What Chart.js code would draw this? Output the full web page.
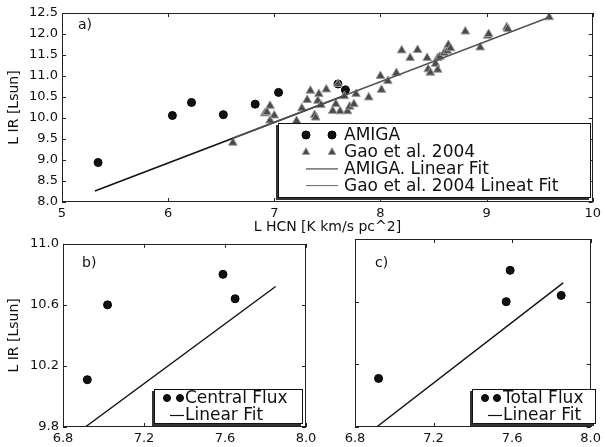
<!DOCTYPE html>
<html><head><meta charset="utf-8">
<style>
html,body{margin:0;padding:0;background:#fff}
body{width:605px;height:447px;position:relative;overflow:hidden}
canvas{position:absolute}
</style>
<script src="https://cdn.jsdelivr.net/npm/chart.js@4"></script>
</head><body>
<canvas id="c1" width="605" height="236" style="left:0px;top:0px"></canvas>
<canvas id="c2" width="330" height="215" style="left:0px;top:232px"></canvas>
<canvas id="c3" width="275" height="215" style="left:330px;top:232px"></canvas>
<script>
// ---------- data ----------
const AMIGA_X = [5.34, 6.04, 6.22, 6.52, 6.82, 7.04, 7.60, 7.67];
const AMIGA_Y = [8.94, 10.06, 10.37, 10.08, 10.33, 10.61, 10.81, 10.67];
const GAO_X = [6.61, 6.91, 6.96, 6.93, 6.96, 7.00, 7.21, 7.26, 7.31, 7.34, 7.38, 7.39, 7.42, 7.41, 7.44, 7.49, 7.55, 7.58, 7.62, 7.69, 7.71, 7.75, 7.77, 7.60, 7.66, 7.89, 8.00, 8.01, 8.07, 8.15, 8.20, 8.28, 8.35, 8.44, 8.45, 8.47, 8.52, 8.54, 8.54, 8.56, 8.60, 8.63, 8.64, 8.66, 8.80, 8.94, 9.01, 9.02, 9.19, 9.20, 9.59];
const GAO_Y = [9.41, 10.11, 10.29, 10.14, 9.94, 10.06, 9.93, 10.23, 10.43, 10.65, 10.07, 10.01, 10.57, 10.41, 10.31, 10.68, 10.17, 10.33, 10.16, 10.16, 10.27, 10.33, 10.57, 10.81, 10.52, 10.49, 11.00, 10.67, 10.88, 11.07, 11.61, 11.43, 11.62, 11.43, 11.16, 11.08, 11.29, 11.43, 11.15, 11.46, 11.55, 11.60, 11.74, 11.66, 12.06, 11.68, 11.96, 12.00, 12.16, 12.12, 12.40];
const AMIGA_FIT_X = [5.31, 7.67];
const AMIGA_FIT_Y = [8.26, 10.54];
const GAO_FIT_X = [6.60, 9.59];
const GAO_FIT_Y = [9.51, 12.40];

const CENTRAL_X = [6.92, 7.02, 7.59, 7.65];
const CENTRAL_Y = [10.11, 10.60, 10.80, 10.64];
const CENTRAL_FIT_X = [6.91, 7.85];
const CENTRAL_FIT_Y = [9.80, 10.72];

const TOTAL_X = [6.92, 7.57, 7.59, 7.85];
const TOTAL_Y = [10.11, 10.60, 10.80, 10.64];
const TOTAL_FIT_X = [6.91, 7.86];
const TOTAL_FIT_Y = [9.80, 10.72];

const TOP_X_TICKS = [5, 6, 7, 8, 9, 10];
const TOP_Y_TICKS = [8.0, 8.5, 9.0, 9.5, 10.0, 10.5, 11.0, 11.5, 12.0, 12.5];
const BOT_X_TICKS = [6.8, 7.2, 7.6, 8.0];
const BOT_Y_TICKS = [9.8, 10.2, 10.6, 11.0];

const X_TITLE = 'L HCN [K km/s pc^2]';
const Y_TITLE = 'L IR [Lsun]';

// ---------- helpers ----------
const pts = (xs, ys) => xs.map((x, i) => ({x, y: ys[i]}));
const FONT = '"DejaVu Sans", sans-serif';
Chart.defaults.font.family = FONT;
Chart.defaults.font.size = 13;
Chart.defaults.color = '#111';

const decor = {
  id: 'decor',
  afterDatasetsDraw(chart, args, o) {
    const ctx = chart.ctx, a = chart.chartArea;
    const xs = chart.scales.x, ys = chart.scales.y;
    ctx.save();
    ctx.strokeStyle = '#222'; ctx.lineWidth = 1;
    ctx.beginPath();
    xs.ticks.forEach(t => {
      const p = Math.round(xs.getPixelForValue(t.value)) + 0.5;
      ctx.moveTo(p, a.bottom); ctx.lineTo(p, a.bottom - 4);
      ctx.moveTo(p, a.top); ctx.lineTo(p, a.top + 4);
    });
    ys.ticks.forEach(t => {
      const p = Math.round(ys.getPixelForValue(t.value)) + 0.5;
      ctx.moveTo(a.left, p); ctx.lineTo(a.left + 4, p);
      ctx.moveTo(a.right, p); ctx.lineTo(a.right - 4, p);
    });
    ctx.stroke();
    ctx.strokeRect(Math.round(a.left) + 0.5, Math.round(a.top) + 0.5, Math.round(a.width) - 1, Math.round(a.height) - 1);
    ctx.fillStyle = '#111';
    ctx.font = '14px ' + FONT;
    ctx.textBaseline = 'middle';
    ctx.fillText(o.label, o.lx, o.ly);
    const L = o.legend;
    ctx.fillStyle = '#333';
    ctx.fillRect(L.x - L.sh, L.y + L.sh, L.w, L.h);
    ctx.fillStyle = '#fff';
    ctx.fillRect(L.x, L.y, L.w, L.h);
    ctx.strokeStyle = '#111';
    ctx.strokeRect(L.x + 0.5, L.y + 0.5, L.w - 1, L.h - 1);
    ctx.font = L.fs + 'px ' + FONT;
    L.items.forEach((it, i) => {
      const y = L.rowY + i * L.rowH;
      const ds = chart.data.datasets[it.ds];
      if (it.type === 'line') {
        ctx.strokeStyle = it.color; ctx.lineWidth = it.lw;
        ctx.beginPath(); ctx.moveTo(L.lx0, y + 0.5); ctx.lineTo(L.lx1, y + 0.5); ctx.stroke();
      } else {
        L.mx.forEach(mx => {
          ctx.fillStyle = ds.backgroundColor;
          ctx.strokeStyle = ds.borderColor;
          ctx.lineWidth = 1;
          ctx.beginPath();
          if (it.type === 'circle') {
            ctx.arc(mx, y, it.r, 0, Math.PI * 2);
          } else {
            const r = it.r;
            ctx.moveTo(mx, y - r); ctx.lineTo(mx + r * 0.95, y + r * 0.7); ctx.lineTo(mx - r * 0.95, y + r * 0.7); ctx.closePath();
          }
          ctx.fill(); ctx.stroke();
        });
      }
      ctx.fillStyle = '#111';
      ctx.textBaseline = 'middle';
      ctx.fillText(ds.label, L.tx, y + 1);
    });
    ctx.restore();
  }
};

function axis(ticksArr, min, max, fixed, size, opts) {
  return Object.assign({
    type: 'linear', min, max,
    grid: {display: false, drawTicks: false},
    border: {display: false},
    afterBuildTicks: s => { s.ticks = ticksArr.map(v => ({value: v})); },
    ticks: {callback: v => v.toFixed(fixed), padding: 4, font: {size: 13}, color: '#111'},
  }, opts, {afterFit: s => { if (s.isHorizontal()) s.height = size; else s.width = size; }});
}

function makeChart(id, datasets, scales, padding, decorOpts) {
  return new Chart(document.getElementById(id), {
    type: 'scatter',
    data: {datasets},
    options: {
      responsive: false, animation: false, devicePixelRatio: 1,
      layout: {padding},
      plugins: {legend: {display: false}, tooltip: {enabled: false}, decor: decorOpts},
      scales
    },
    plugins: [decor]
  });
}

const circleDs = (label, data) => ({label, data, pointStyle: 'circle', pointRadius: 4, backgroundColor: '#111', borderColor: '#000', borderWidth: 1, order: 3});
const lineDs = (label, data, color, w, order) => ({label, data, showLine: true, pointRadius: 0, borderColor: color, backgroundColor: color, borderWidth: w, order});

// ---------- top chart ----------
makeChart('c1', [
  circleDs('AMIGA', pts(AMIGA_X, AMIGA_Y)),
  {label: 'Gao et al. 2004', data: pts(GAO_X, GAO_Y), pointStyle: 'triangle', pointRadius: 5, backgroundColor: '#4a4a4a', borderColor: '#9a9a9a', borderWidth: 1, order: 2},
  lineDs('AMIGA. Linear Fit', pts(AMIGA_FIT_X, AMIGA_FIT_Y), '#111', 1.6, 1),
  lineDs('Gao et al. 2004 Lineat Fit', pts(GAO_FIT_X, GAO_FIT_Y), '#555', 1.6, 0),
], {
  x: axis(TOP_X_TICKS, 5, 10, 0, 34, {title: {display: true, text: X_TITLE, font: {size: 14}, padding: {top: 0, bottom: 0}, color: '#111'}}),
  y: axis(TOP_Y_TICKS, 8, 12.5, 1, 62, {title: {display: true, text: Y_TITLE, font: {size: 14}, padding: {top: 6, bottom: 0}, color: '#111'}}),
}, {left: 0, right: 7, top: 13, bottom: 0}, {
  label: 'a)', lx: 78, ly: 25,
  legend: {x: 278, y: 123, w: 313, h: 75, sh: 2, fs: 17, rowY: 135, rowH: 16.7, tx: 344, mx: [306, 332], lx0: 306, lx1: 338,
    items: [{ds: 0, type: 'circle', r: 4}, {ds: 1, type: 'triangle', r: 4}, {ds: 2, type: 'line', color: '#777', lw: 1.6}, {ds: 3, type: 'line', color: '#666', lw: 1}]}
});

// ---------- bottom left ----------
makeChart('c2', [
  circleDs('Central Flux', pts(CENTRAL_X, CENTRAL_Y)),
  lineDs('Linear Fit', pts(CENTRAL_FIT_X, CENTRAL_FIT_Y), '#111', 1.4, 0),
], {
  x: axis(BOT_X_TICKS, 6.8, 8.0, 1, 20, {}),
  y: axis(BOT_Y_TICKS, 9.8, 11.0, 1, 63, {title: {display: true, text: Y_TITLE, font: {size: 14}, padding: {top: 6, bottom: 0}, color: '#111'}}),
}, {left: 0, right: 24, top: 7, bottom: 0}, {
  label: 'b)', lx: 82, ly: 31,
  legend: {x: 154, y: 157, w: 149, h: 35, sh: 2, fs: 17, rowY: 166, rowH: 17, tx: 185, mx: [167, 180], lx0: 170, lx1: 184,
    items: [{ds: 0, type: 'circle', r: 3.5}, {ds: 1, type: 'line', color: '#111', lw: 1.2}]}
});

// ---------- bottom right ----------
makeChart('c3', [
  circleDs('Total Flux', pts(TOTAL_X, TOTAL_Y)),
  lineDs('Linear Fit', pts(TOTAL_FIT_X, TOTAL_FIT_Y), '#111', 1.4, 0),
], {
  x: axis(BOT_X_TICKS, 6.8, 8.0, 1, 20, {}),
  y: axis(BOT_Y_TICKS, 9.8, 11.0, 1, 25, {ticks: {display: false}}),
}, {left: 0, right: 6, top: 7, bottom: 0}, {
  label: 'c)', lx: 45, ly: 31,
  legend: {x: 142, y: 157, w: 124, h: 35, sh: 2, fs: 17, rowY: 166, rowH: 17, tx: 173, mx: [155, 167], lx0: 158, lx1: 172,
    items: [{ds: 0, type: 'circle', r: 3.5}, {ds: 1, type: 'line', color: '#111', lw: 1.2}]}
});
</script>
</body></html>
